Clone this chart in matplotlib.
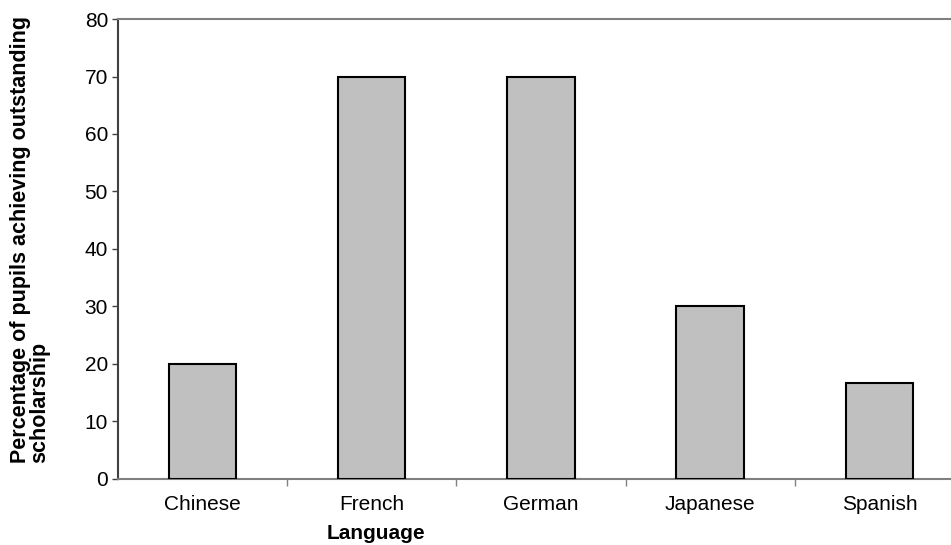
import matplotlib.pyplot as plt
import numpy as np

languages = ['Chinese', 'French', 'German', 'Japanese', 'Spanish']
percent_outstanding = [20, 70, 70, 30, 16.7]
y_ticks = [0, 10, 20, 30, 40, 50, 60, 70, 80]

plt.rcParams['font.family'] = ['Liberation Sans', 'DejaVu Sans']

fig = plt.figure(figsize=(9.51, 5.45), dpi=100)
# plot area runs a little past the right edge of the figure
ax = fig.add_axes([0.1238, 0.122, 0.8899, 0.843])

x = np.arange(len(languages))
ax.bar(x, percent_outstanding, width=0.4, color='#c0c0c0',
       edgecolor='black', linewidth=1.5, zorder=3)

ax.set_xlim(-0.5, len(languages) - 0.5)
ax.set_ylim(0, 80)
ax.set_yticks(y_ticks)
ax.tick_params(axis='y', labelsize=15, length=4, width=1, color='#404040', pad=3)

# category labels centred, tick marks between categories
ax.set_xticks(x)
ax.set_xticklabels(languages, fontsize=15)
ax.tick_params(axis='x', which='major', length=0, pad=12)
ax.set_xticks(np.arange(0.5, len(languages) - 0.5), minor=True)
ax.tick_params(axis='x', which='minor', length=5, width=1, color='#808080')

ax.spines['left'].set_color('#404040')
ax.spines['left'].set_linewidth(1.5)
for side in ['top', 'bottom', 'right']:
    ax.spines[side].set_color('#808080')
    ax.spines[side].set_linewidth(1.5)

ax.set_xlabel('Language', fontsize=15, fontweight='bold')
ax.xaxis.set_label_coords(0.305, -0.1)
ax.set_ylabel('Percentage of pupils achieving outstanding\nscholarship',
              fontsize=15.5, fontweight='bold', multialignment='left', linespacing=0.9)
ax.yaxis.set_label_coords(-0.08, 0.52)

fig.savefig('out.png', dpi=100)
